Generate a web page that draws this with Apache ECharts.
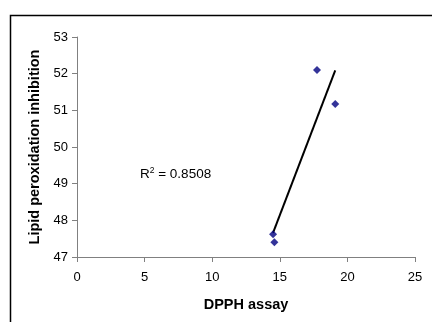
<!DOCTYPE html>
<html>
<head>
<meta charset="utf-8">
<script src="https://cdn.jsdelivr.net/npm/echarts@6/dist/echarts.min.js"></script>
<style>
html,body{margin:0;padding:0;background:#fff;}
#c{width:432px;height:322px;}
</style>
</head>
<body>
<div id="c"></div>
<script>
// Data
const dpph = [17.75, 19.1, 14.5, 14.6];
const lipid = [52.1, 51.17, 47.62, 47.4];
const xTicks = [0, 5, 10, 15, 20, 25];
const yTicks = [47, 48, 49, 50, 51, 52, 53];
const r2Text = '0.8508';

const points = dpph.map((x, i) => [x, lipid[i]]);

// least-squares trendline over the data range
const n = dpph.length;
const mx = dpph.reduce((a, b) => a + b, 0) / n;
const my = lipid.reduce((a, b) => a + b, 0) / n;
let sxy = 0, sxx = 0;
for (let i = 0; i < n; i++) { sxy += (dpph[i] - mx) * (lipid[i] - my); sxx += (dpph[i] - mx) ** 2; }
const slope = sxy / sxx;
const icpt = my - slope * mx;
const xMin = Math.min(...dpph), xMax = Math.max(...dpph);
const trend = [[xMin, icpt + slope * xMin], [xMax, icpt + slope * xMax]];

const font = 'Liberation Sans, Arial, sans-serif';
const chart = echarts.init(document.getElementById('c'), null, {renderer: 'canvas'});
chart.setOption({
  animation: false,
  backgroundColor: '#fff',
  grid: {left: 77, top: 37, right: 17, bottom: 65},
  xAxis: {
    type: 'value',
    min: xTicks[0], max: xTicks[xTicks.length - 1], interval: 5,
    name: 'DPPH assay', nameLocation: 'middle', nameGap: 40,
    nameTextStyle: {fontFamily: font, fontSize: 14.5, fontWeight: 'bold', color: '#000'},
    axisLine: {onZero: false, lineStyle: {color: '#808080', width: 1}},
    axisTick: {show: true, inside: false, length: 5, lineStyle: {color: '#808080'}},
    axisLabel: {fontFamily: font, fontSize: 13, color: '#000', margin: 14},
    splitLine: {show: false}
  },
  yAxis: {
    type: 'value',
    min: yTicks[0], max: yTicks[yTicks.length - 1], interval: 1,
    name: 'Lipid peroxidation inhibition', nameLocation: 'middle', nameGap: 35,
    nameTextStyle: {fontFamily: font, fontSize: 14.5, fontWeight: 'bold', color: '#000'},
    axisLine: {show: true, lineStyle: {color: '#808080', width: 1}},
    axisTick: {show: true, inside: false, length: 5, lineStyle: {color: '#808080'}},
    axisLabel: {fontFamily: font, fontSize: 13, color: '#000', margin: 9},
    splitLine: {show: false}
  },
  series: [
    {
      type: 'line', data: trend, showSymbol: false, symbol: 'none',
      lineStyle: {color: '#000', width: 2}, z: 2
    },
    {
      type: 'scatter', data: points, symbol: 'diamond', symbolSize: 8,
      itemStyle: {color: '#000080'}, z: 3
    }
  ],
  graphic: [
    {type: 'rect', left: 8, top: 13, shape: {width: 440, height: 330},
     style: {fill: 'none', stroke: '#000', lineWidth: 1.5}, z: 10},
    {type: 'text', left: 140, top: 166,
     style: {text: '{a|R}{s|2}{a| = ' + r2Text + '}', fill: '#000',
       rich: {a: {fontFamily: font, fontSize: 13.5, color: '#000'},
              s: {fontFamily: font, fontSize: 8.5, color: '#000', verticalAlign: 'top', padding: [0, 0, 7, 0]}}}}
  ]
});
</script>
</body>
</html>
